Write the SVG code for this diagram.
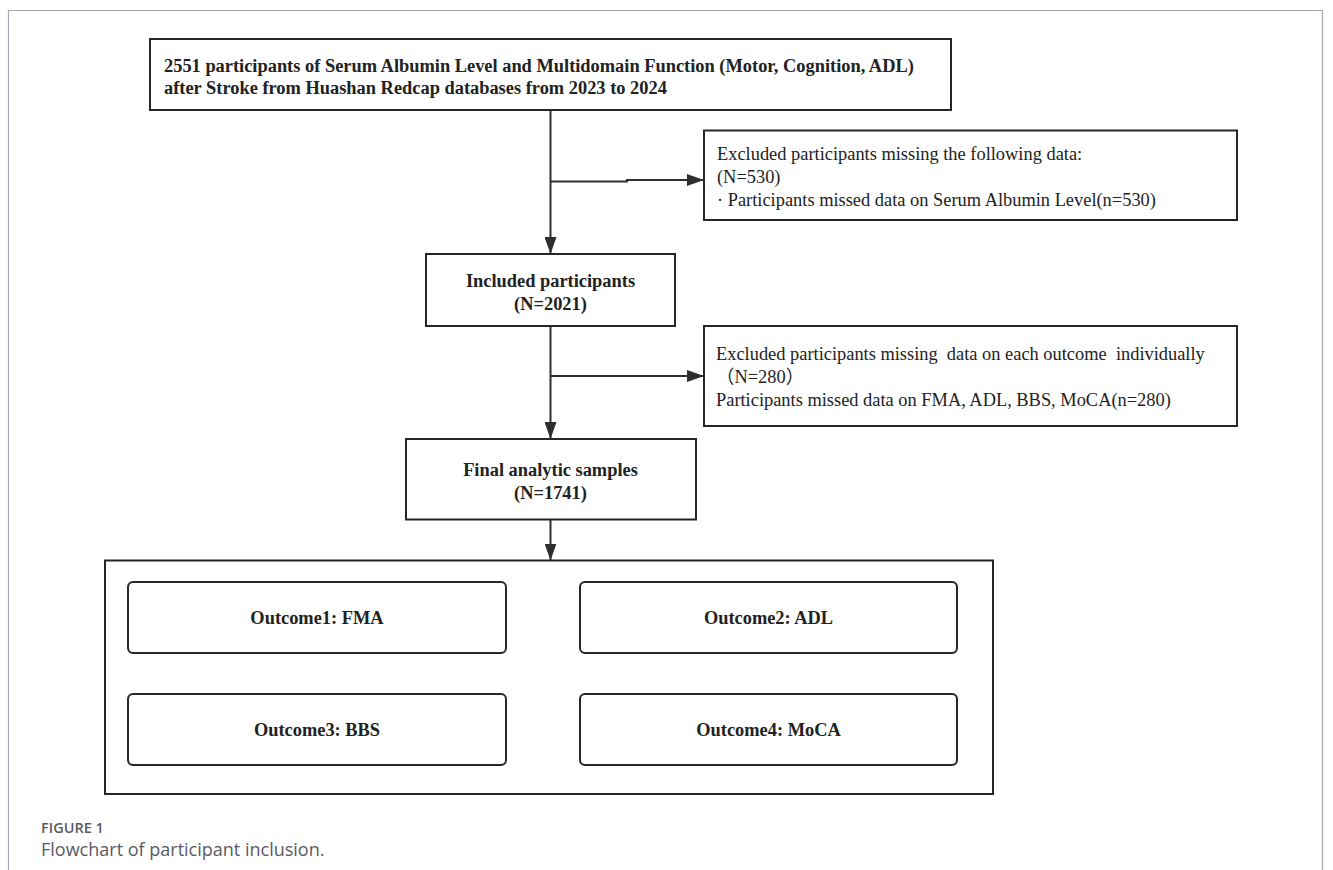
<svg xmlns="http://www.w3.org/2000/svg" width="1333" height="870" viewBox="0 0 1333 870">
<style>
.box{fill:#fff;stroke:#262626;stroke-width:2}
.rbox{fill:#fff;stroke:#262626;stroke-width:2}
.conn{fill:none;stroke:#2e2e2e;stroke-width:2}
.b{font-family:"Liberation Serif","Times New Roman",serif;font-weight:bold;font-size:18.4px;fill:#222}
.r{font-family:"Liberation Serif","Times New Roman","Noto Sans CJK SC",serif;font-size:18.4px;fill:#222}
.mid{text-anchor:middle}
.cap1{font-family:"Open Sans","Noto Sans",sans-serif;font-weight:600;font-size:14.5px;fill:#5a5a64}
.cap2{font-family:"Open Sans","Noto Sans",sans-serif;font-size:18px;fill:#5a5a64}
</style>
<defs>
<marker id="ah" markerUnits="userSpaceOnUse" markerWidth="17" markerHeight="12" refX="17" refY="6" orient="auto">
<path d="M0,0 L17,6 L0,12 z" fill="#2e2e2e"/>
</marker>
</defs>
<rect x="0" y="0" width="1333" height="870" fill="#fff"/>
<path d="M8.5,880 V10.5 H1322.5 V880" fill="none" stroke="#a8a8b2" stroke-width="1.2"/>

<g id="connectors">
<path class="conn" d="M550.5,110 V254" marker-end="url(#ah)"/>
<path class="conn" d="M550.5,181.5 H627 V180 H704" marker-end="url(#ah)"/>
<path class="conn" d="M550.5,326 V439" marker-end="url(#ah)"/>
<path class="conn" d="M550.5,376 H704" marker-end="url(#ah)"/>
<path class="conn" d="M550.5,519.5 V560.5" marker-end="url(#ah)"/>
</g>

<g id="n_total">
<rect class="box" x="150" y="39" width="801" height="71"/>
<text class="b" x="164" y="72">2551 participants of Serum Albumin Level and Multidomain Function (Motor, Cognition, ADL)</text>
<text class="b" x="164" y="94">after Stroke from Huashan Redcap databases from 2023 to 2024</text>
</g>

<g id="n_excl1">
<rect class="box" x="704" y="130.5" width="533" height="89.5"/>
<text class="r" x="717" y="160">Excluded participants missing the following data:</text>
<text class="r" x="717" y="183">(N=530)</text>
<text class="r" x="717" y="206">· Participants missed data on Serum Albumin Level(n=530)</text>
</g>

<g id="n_included">
<rect class="box" x="426" y="254" width="249" height="72"/>
<text class="b mid" x="550.5" y="287">Included participants</text>
<text class="b mid" x="550.5" y="310">(N=2021)</text>
</g>

<g id="n_excl2">
<rect class="box" x="704" y="326" width="533" height="100"/>
<text class="r" x="716" y="360" xml:space="preserve">Excluded participants missing  data on each outcome  individually</text>
<text class="r" x="716" y="383">（N=280）</text>
<text class="r" x="716" y="406">Participants missed data on FMA, ADL, BBS, MoCA(n=280)</text>
</g>

<g id="n_final">
<rect class="box" x="406" y="439" width="290" height="80.5"/>
<text class="b mid" x="550.5" y="476">Final analytic samples</text>
<text class="b mid" x="550.5" y="499">(N=1741)</text>
</g>

<g id="n_outcomes">
<rect class="box" x="105" y="560.5" width="888" height="233.5"/>
</g>
<g id="n_o1">
<rect class="rbox" x="128" y="582" width="378" height="71" rx="5"/>
<text class="b mid" x="317" y="624">Outcome1: FMA</text>
</g>
<g id="n_o2">
<rect class="rbox" x="580" y="582" width="377" height="71" rx="5"/>
<text class="b mid" x="768.5" y="624">Outcome2: ADL</text>
</g>
<g id="n_o3">
<rect class="rbox" x="128" y="694" width="378" height="71" rx="5"/>
<text class="b mid" x="317" y="736">Outcome3: BBS</text>
</g>
<g id="n_o4">
<rect class="rbox" x="580" y="694" width="377" height="71" rx="5"/>
<text class="b mid" x="768.5" y="736">Outcome4: MoCA</text>
</g>

<g id="caption">
<text class="cap1" x="41" y="833">FIGURE 1</text>
<text class="cap2" x="41" y="856">Flowchart of participant inclusion.</text>
</g>
</svg>
